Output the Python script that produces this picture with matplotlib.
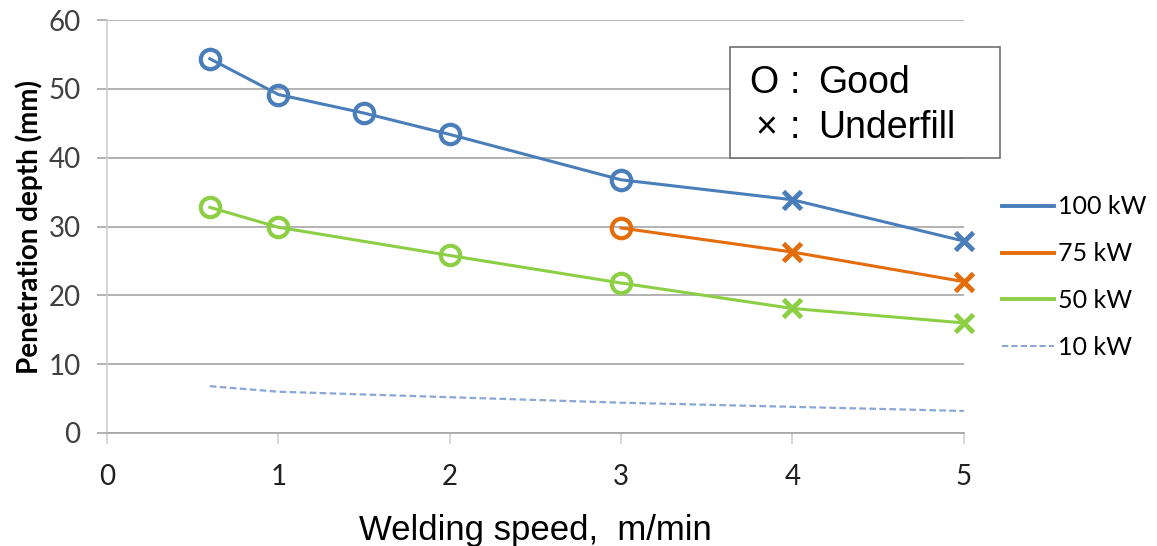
import matplotlib.pyplot as plt
from matplotlib.lines import Line2D
from matplotlib.patches import Rectangle

plt.rcParams['font.family'] = ['Lato', 'DejaVu Sans']

# data
speed_100 = [0.6, 1.0, 1.5, 2.0, 3.0, 4.0, 5.0]
depth_100 = [54.4, 49.2, 46.5, 43.4, 36.8, 33.9, 27.9]
good_100 = [True, True, True, True, True, False, False]

speed_75 = [3.0, 4.0, 5.0]
depth_75 = [29.8, 26.3, 22.0]
good_75 = [True, False, False]

speed_50 = [0.6, 1.0, 2.0, 3.0, 4.0, 5.0]
depth_50 = [32.8, 29.9, 25.8, 21.8, 18.1, 16.0]
good_50 = [True, True, True, True, False, False]

speed_10 = [0.6, 1.0, 2.0, 3.0, 4.0, 5.0]
depth_10 = [6.8, 6.0, 5.2, 4.4, 3.8, 3.2]

series_names = ["100 kW", "75 kW", "50 kW", "10 kW"]

BLUE = "#4A7EBB"
ORANGE = "#E46C0A"
GREEN = "#8CCF45"
LIGHT_BLUE = "#8AA6D6"
GRID = "#A6A6A6"

fig = plt.figure(figsize=(11.57, 5.46), dpi=100)
ax = fig.add_axes([0.0925, 0.207, 0.7405, 0.756])


def draw_series(xs, ys, good, color):
    ax.plot(xs, ys, color=color, lw=2.2, zorder=3, clip_on=False)
    for x, y, g in zip(xs, ys, good):
        if g:
            ax.plot(x, y, marker="o", ms=14, mfc="none", mec=color, mew=3, zorder=4, clip_on=False)
        else:
            ax.plot(x, y, marker="x", ms=13, mec=color, mew=3.5, zorder=4, clip_on=False)


draw_series(speed_100, depth_100, good_100, BLUE)
draw_series(speed_75, depth_75, good_75, ORANGE)
draw_series(speed_50, depth_50, good_50, GREEN)
ax.plot(speed_10, depth_10, color=LIGHT_BLUE, lw=1.6, ls=(0, (3, 1.5)), zorder=3)

ax.set_xlim(0, 5)
ax.set_ylim(0, 60)
ax.set_xticks(range(0, 6))
ax.set_yticks(range(0, 61, 10))
ax.yaxis.grid(True, color=GRID, lw=1.2)
ax.set_axisbelow(True)
for s in ["top", "right"]:
    ax.spines[s].set_visible(False)
ax.spines["left"].set_color("#D0D0D0")
ax.spines["bottom"].set_color(GRID)
ax.spines["bottom"].set_linewidth(1.2)
ax.spines["left"].set_linewidth(1.2)
ax.tick_params(axis="y", length=7, color=GRID, width=1.2, labelsize=20, labelcolor="#404040", pad=12)
ax.tick_params(axis="x", length=8, color="#D0D0D0", width=1.2, labelsize=20, labelcolor="#202020", pad=14)

ax.set_ylabel("Penetration depth (mm)", fontsize=20, fontweight="bold", labelpad=4)
fig.text(0.463, 1 - 540 / 546, "Welding speed,  m/min", fontsize=25, ha="center", va="baseline",
         family="Liberation Sans")

# marker meaning box
fig.add_artist(Rectangle((730 / 1157, 1 - 158 / 546), 270 / 1157, 111 / 546,
                         transform=fig.transFigure, facecolor="white",
                         edgecolor="#707070", lw=1.2, zorder=5))
box_kw = dict(fontsize=27, va="baseline", family="Liberation Sans", zorder=6)
fig.text(764 / 1157, 1 - 93 / 546, "O", ha="center", **box_kw)
fig.text(795 / 1157, 1 - 93 / 546, ":", ha="center", **box_kw)
fig.text(818 / 1157, 1 - 93 / 546, "Good", ha="left", **box_kw)
fig.text(766 / 1157, 1 - 138 / 546, "×", ha="center", **box_kw)
fig.text(795 / 1157, 1 - 138 / 546, ":", ha="center", **box_kw)
fig.text(818 / 1157, 1 - 138 / 546, "Underfill", ha="left", **box_kw)

handles = [
    Line2D([], [], color=BLUE, lw=2.8),
    Line2D([], [], color=ORANGE, lw=2.8),
    Line2D([], [], color=GREEN, lw=2.8),
    Line2D([], [], color=LIGHT_BLUE, lw=1.5, ls=(0, (3, 1.5))),
]
fig.legend(handles, series_names, loc="upper left",
           bbox_to_anchor=(984 / 1157, 1 - 178 / 546), frameon=False, fontsize=18,
           handlelength=2.1, handletextpad=0.15, labelspacing=0.95, borderpad=0.2)

fig.savefig("out.png", dpi=100)
